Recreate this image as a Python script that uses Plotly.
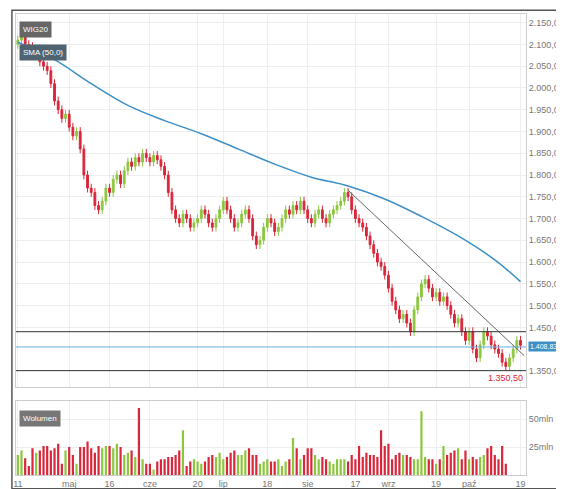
import plotly.graph_objects as go

closes = [2110,2120,2100,2095,2080,2090,2060,2050,2040,2010,1970,
1950,1930,1940,1910,1890,1900,1860,1800,1770,1760,1730,
1720,1740,1770,1760,1790,1800,1780,1810,1830,1820,1840,1830,
1850,1840,1830,1845,1835,1820,1800,1760,1720,1700,1690,
1710,1700,1680,1690,1700,1720,1710,1690,1680,1700,1720,
1740,1720,1700,1680,1690,1710,1720,1700,1660,1640,1650,
1680,1700,1690,1670,1680,1700,1720,1710,1730,1720,1740,
1720,1700,1690,1710,1720,1700,1690,1710,1720,1730,1740,1760,1750,
1720,1700,1690,1680,1660,1640,1620,1600,1590,1570,1540,1510,1490,
1470,1480,1460,1440,1490,1520,1550,1560,1540,1520,1530,1510,
1520,1500,1480,1460,1470,1440,1420,1440,1400,1380,1410,
1440,1430,1410,1400,1390,1370,1360,1380,1400,1420,1409]
opens = [2100] + closes[:-1]
highs = [max(o, c) + 10 for o, c in zip(opens, closes)]
lows = [min(o, c) - 10 for o, c in zip(opens, closes)]

volumes = [18,22,15,8,24,20,22,
26,26,22,24,28,10,22,25,18,10,25,25,30,24,20,
26,24,26,26,24,28,25,18,20,22,16,60,14,10,10,
5,12,14,14,16,16,18,22,40,8,12,14,12,10,12,
16,18,16,20,14,16,20,22,18,18,22,24,18,18,10,
12,14,12,12,14,8,12,14,33,24,14,18,24,24,18,
14,16,14,12,10,14,14,14,12,18,14,26,16,20,18,
18,16,40,26,28,14,18,20,18,18,16,14,14,57,
16,14,14,10,14,26,18,20,22,24,14,22,14,16,14,
16,18,24,26,18,14,26,10]

sma_idx = [0,10,20,30,40,50,60,70,80,90,100,110,120,130,137]
sma_val = [2105,2065,2010,1960,1925,1895,1860,1825,1795,1775,1745,1705,1660,1605,1555]

tick_idx = [0,14,25,36,49,56,68,79,92,101,114,123,137]
tick_txt = ["11","maj","16","cze","20","lip","18","sie","17","wrz","19","paź","19"]

ytick_vals = [v for v in range(1350, 2151, 50) if v != 1400]
ytick_txt = [f"{v//1000}.{v%1000:03d},00" for v in ytick_vals]

x = list(range(len(closes)))
red, green = "#d9263a", "#8cc63e"
vcol = [green if c >= o else red for o, c in zip(opens, closes)]

fig = go.Figure()
fig.add_trace(go.Candlestick(x=x, open=opens, high=highs, low=lows, close=closes,
    increasing=dict(line=dict(color=green, width=1), fillcolor=green),
    decreasing=dict(line=dict(color=red, width=1), fillcolor=red),
    whiskerwidth=0, xaxis="x", yaxis="y", showlegend=False))
fig.add_trace(go.Scatter(x=sma_idx, y=sma_val, mode="lines", line=dict(color="#3d8fc6", width=1.5, shape="spline"),
    xaxis="x", yaxis="y", showlegend=False))
fig.add_trace(go.Scatter(x=[90, 138], y=[1765, 1385], mode="lines", line=dict(color="#666", width=1),
    xaxis="x", yaxis="y", showlegend=False))
fig.add_trace(go.Bar(x=x, y=volumes, marker=dict(color=vcol, line=dict(width=0)), width=0.6,
    xaxis="x2", yaxis="y2", showlegend=False))

for yv, col in [(1440, "#333"), (1405, "#6aaede"), (1350.5, "#333")]:
    fig.add_shape(type="line", xref="x", yref="y", x0=-0.5, x1=138.5, y0=yv, y1=yv, line=dict(color=col, width=1))

fig.update_layout(
    width=564, height=489, margin=dict(l=5, r=46, t=5, b=22),
    paper_bgcolor="white", plot_bgcolor="white", font=dict(family="Liberation Sans Narrow, Arial", size=9, color="#777"),
    xaxis=dict(domain=[0, 1], range=[-0.5, 138.5], showticklabels=False, rangeslider=dict(visible=False),
               tickvals=tick_idx, showgrid=True, gridcolor="#eee", zeroline=False, anchor="y", showline=True, linecolor="#ccc", mirror=True),
    yaxis=dict(domain=[0.19, 1], range=[1312, 2170], side="right", tickvals=ytick_vals, ticktext=ytick_txt,
               gridcolor="#eee", zeroline=False, showline=True, linecolor="#ccc", mirror=True),
    xaxis2=dict(domain=[0, 1], range=[-0.5, 138.5], tickvals=tick_idx, ticktext=tick_txt, anchor="y2",
                showgrid=True, gridcolor="#eee", zeroline=False, showline=True, linecolor="#ccc", mirror=True),
    yaxis2=dict(domain=[0.0, 0.16], range=[0, 66], side="right", tickvals=[25, 50], ticktext=["25mln", "50mln"],
                gridcolor="#eee", zeroline=False, showline=True, linecolor="#ccc", mirror=True),
    bargap=0.3,
)
fig.add_annotation(xref="paper", yref="paper", x=0.005, y=0.985, xanchor="left", yanchor="top", text="WIG20",
    showarrow=False, bgcolor="#666", font=dict(color="white", size=8), borderpad=3)
fig.add_annotation(xref="paper", yref="paper", x=0.005, y=0.935, xanchor="left", yanchor="top", text="SMA (50,0)",
    showarrow=False, bgcolor="#4f6470", font=dict(color="white", size=8), borderpad=3)
fig.add_annotation(xref="paper", yref="paper", x=0.005, y=0.14, xanchor="left", yanchor="top", text="Wolumen",
    showarrow=False, bgcolor="#777", font=dict(color="white", size=8), borderpad=3)
fig.add_annotation(xref="paper", yref="y", x=1.004, y=1405, xanchor="left", text="1.408,83",
    showarrow=False, bgcolor="#3d8fc6", font=dict(color="white", size=7), borderpad=1)
fig.add_annotation(xref="x", yref="y", x=133, y=1350, yanchor="top", text="1.350,50",
    showarrow=False, font=dict(color="#d9263a", size=9))
fig.add_shape(type="rect", xref="paper", yref="paper", x0=-0.008, x1=1.07, y0=-0.03, y1=1.008, line=dict(color="#555", width=1.5))
fig.write_html("out.html")
